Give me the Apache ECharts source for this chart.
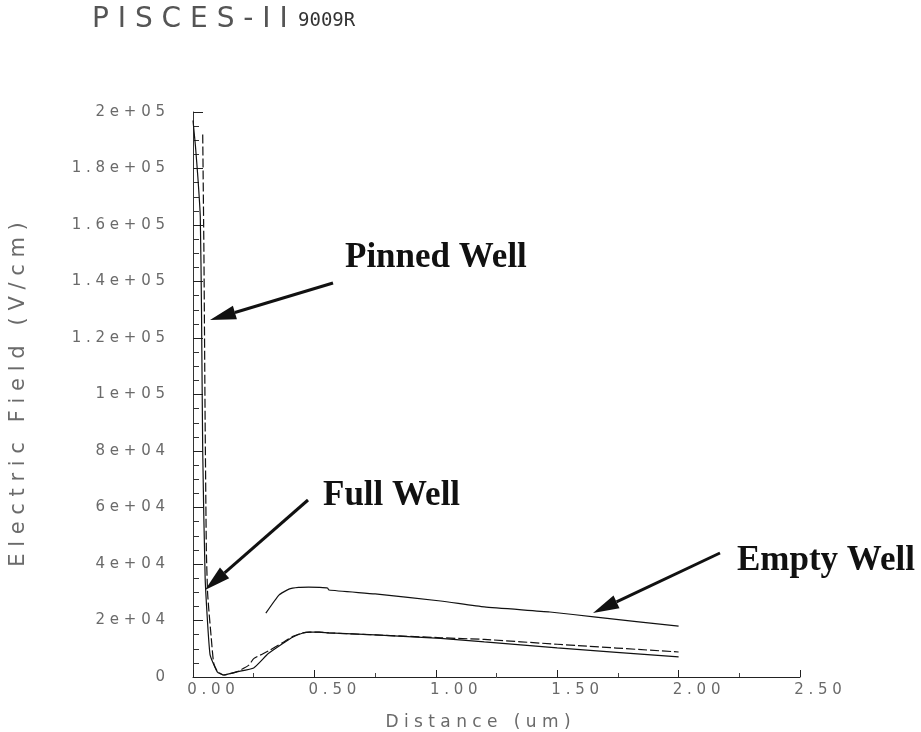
<!DOCTYPE html>
<html>
<head>
<meta charset="utf-8">
<script src="https://cdn.jsdelivr.net/npm/echarts@6/dist/echarts.min.js"></script>
<style>
  html, body { margin: 0; padding: 0; background: #fff; }
  #chart { width: 921px; height: 732px; }
</style>
</head>
<body>
<div id="chart"></div>
<script>
// Electric field along a vertical cut through the pixel, three well states
const pinnedX = [0, 0.01, 0.02, 0.03, 0.035, 0.04, 0.05, 0.07, 0.1, 0.126, 0.18, 0.25, 0.31, 0.37, 0.41, 0.45, 0.48, 0.52, 0.56, 0.75, 1.02, 1.2, 1.5, 2.0];
const pinnedY = [197000, 188000, 177000, 163000, 130000, 80000, 35000, 8000, 1800, 700, 1800, 3200, 8300, 11900, 14100, 15500, 15900, 15900, 15600, 14900, 13700, 12400, 10300, 7100];

const fullX = [0.04, 0.045, 0.05, 0.055, 0.06, 0.065, 0.075, 0.085, 0.1, 0.11, 0.126, 0.18, 0.23, 0.25, 0.31, 0.37, 0.41, 0.45, 0.48, 0.52, 0.56, 0.75, 1.02, 1.2, 1.5, 2.0];
const fullY = [192000, 150000, 90000, 45000, 30000, 24000, 14000, 5000, 2000, 1400, 700, 1800, 4200, 6500, 9200, 12200, 14300, 15600, 15900, 15900, 15600, 14900, 13900, 13300, 11600, 8850];

const emptyX = [0.30, 0.354, 0.395, 0.435, 0.476, 0.52, 0.554, 0.56, 0.75, 1.02, 1.2, 1.47, 1.66, 2.0];
const emptyY = [22600, 29000, 31100, 31700, 31800, 31700, 31500, 30800, 29400, 26900, 24800, 23000, 21200, 18000];

const titleMain = 'PISCES-II';
const titleRun = '9009R';
const xName = 'Distance (um)';
const yName = 'Electric Field (V/cm)';

// plotter-style lettering: wide spacing between characters
function spaced(s) { return s.split('').join(' '); }

function expLabel(v) {
  if (v === 0) return '0';
  const e = Math.floor(Math.log10(v) + 1e-9);
  const m = +(v / Math.pow(10, e)).toFixed(3);
  return m + 'e+' + String(e).padStart(2, '0');
}

function pairs(xs, ys) { return xs.map((x, i) => [x, ys[i]]); }

// arrow drawn as a shaft plus a filled head ending at (x2, y2)
function arrow(x1, y1, x2, y2) {
  const dx = x2 - x1, dy = y2 - y1;
  const len = Math.sqrt(dx * dx + dy * dy);
  const ux = dx / len, uy = dy / len;
  const hl = 26, hw = 7;
  const bx = x2 - ux * hl, by = y2 - uy * hl;
  return {
    type: 'group',
    children: [
      { type: 'line', shape: { x1: x1, y1: y1, x2: bx, y2: by },
        style: { stroke: '#111', lineWidth: 3 } },
      { type: 'polygon',
        shape: { points: [[x2, y2], [bx - uy * hw, by + ux * hw], [bx + uy * hw, by - ux * hw]] },
        style: { fill: '#111' } }
    ]
  };
}

const axisTextColor = '#6a6a6a';
const annotFont = 'bold 35px "Liberation Serif", "DejaVu Serif", serif';

const chart = echarts.init(document.getElementById('chart'));

chart.setOption({
  animation: false,
  backgroundColor: '#fff',
  grid: { left: 186, right: 121, top: 112, bottom: 55 },
  xAxis: {
    type: 'value',
    min: 0, max: 2.5, interval: 0.5,
    axisLine: { lineStyle: { color: '#222', width: 1 } },
    axisTick: { inside: true, length: 7, lineStyle: { color: '#222' } },
    minorTick: { show: true, splitNumber: 2, length: 4, lineStyle: { color: '#444' } },
    splitLine: { show: false },
    axisLabel: {
      margin: 6,
      color: axisTextColor,
      fontFamily: 'DejaVu Sans',
      fontSize: 15,
      align: 'center',
      padding: [0, 0, 0, 36],
      formatter: v => spaced(v.toFixed(2))
    }
  },
  yAxis: {
    type: 'value',
    min: 0, max: 200000, interval: 20000,
    name: spaced(yName),
    nameLocation: 'middle',
    nameRotate: 90,
    nameGap: 164,
    nameTextStyle: { color: axisTextColor, fontFamily: 'DejaVu Sans', fontSize: 21 },
    axisLine: { show: true, lineStyle: { color: '#333', width: 1 } },
    axisTick: { inside: true, length: 10, lineStyle: { color: '#222' } },
    minorTick: { show: true, splitNumber: 4, length: 6, lineStyle: { color: '#333' } },
    splitLine: { show: false },
    axisLabel: {
      margin: 28,
      color: axisTextColor,
      fontFamily: 'DejaVu Sans',
      fontSize: 15,
      formatter: v => spaced(expLabel(v))
    }
  },
  series: [
    {
      name: 'Pinned Well', type: 'line', data: pairs(pinnedX, pinnedY),
      showSymbol: false, smooth: 0.15,
      lineStyle: { color: '#111', width: 1.2 }
    },
    {
      name: 'Full Well', type: 'line', data: pairs(fullX, fullY),
      showSymbol: false, smooth: 0.15,
      lineStyle: { color: '#111', width: 1.2, type: [9, 3] }
    },
    {
      name: 'Empty Well', type: 'line', data: pairs(emptyX, emptyY),
      showSymbol: false, smooth: 0.15,
      lineStyle: { color: '#111', width: 1.2 }
    }
  ],
  graphic: [
    {
      type: 'text', left: 92, top: 6,
      style: { text: spaced(titleMain), font: '28px "DejaVu Sans"', fill: '#555' }
    },
    {
      type: 'text', left: 298, top: 12,
      style: { text: titleRun, font: '19px "DejaVu Sans Mono"', fill: '#333' }
    },
    {
      type: 'text', x: 478, y: 723,
      style: { text: spaced(xName), font: '17px "DejaVu Sans"', fill: axisTextColor,
               align: 'center', verticalAlign: 'middle' }
    },
    {
      type: 'text', x: 345, y: 275,
      style: { text: 'Pinned Well', font: annotFont, fill: '#111', verticalAlign: 'bottom' }
    },
    {
      type: 'text', x: 323, y: 513,
      style: { text: 'Full Well', font: annotFont, fill: '#111', verticalAlign: 'bottom' }
    },
    {
      type: 'text', x: 737, y: 578,
      style: { text: 'Empty Well', font: annotFont, fill: '#111', verticalAlign: 'bottom' }
    },
    arrow(333, 283, 210, 320),
    arrow(308, 500, 205, 590),
    arrow(720, 553, 593, 613)
  ]
});
</script>
</body>
</html>
